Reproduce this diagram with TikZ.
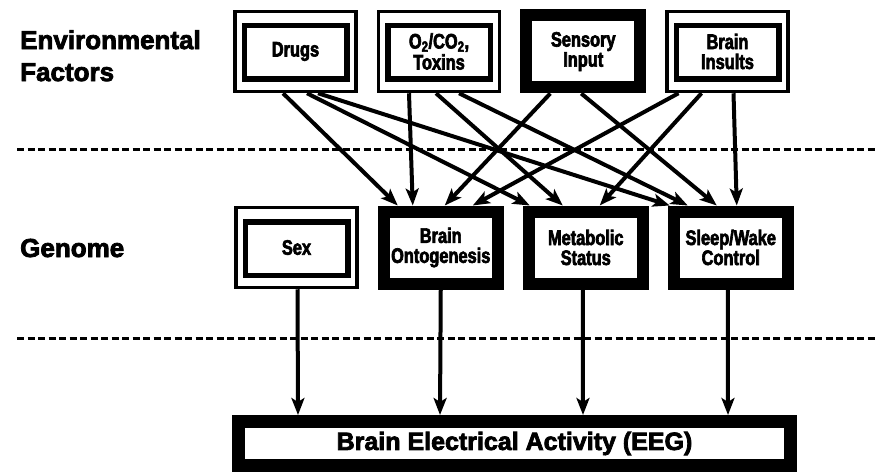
\documentclass[tikz,border=0pt]{standalone}
\usepackage{fontspec}
\setmainfont{Liberation Sans}
\newfontfamily\heavyfont{Liberation Sans Bold}[FakeBold=3]
\newfontfamily\boxfont{Liberation Sans Bold}[FakeBold=3, FakeStretch=0.78]
\usetikzlibrary{arrows.meta}
\usetikzlibrary{positioning}

\begin{document}
\begin{tikzpicture}[
    x=1pt, y=1pt,
    % box styles
    double box/.style={
        draw=black,
        fill=white,
        line width=3.5pt,
        minimum width=121pt,
        minimum height=80pt,
        inner sep=0pt,
        align=center,
        font=\boxfont\fontsize{21}{20}\selectfont
    },
    heavy box/.style={
        draw=black,
        fill=white,
        line width=12pt,
        minimum width=114pt,
        minimum height=72pt,
        inner sep=0pt,
        align=center,
        font=\boxfont\fontsize{21}{20}\selectfont
    },
    inner frame/.style={draw=black, line width=5.5pt},
    % edge styles
    flow/.style={-{Stealth[length=17pt, width=13pt, inset=4pt]}, line width=4pt},
    separator/.style={line width=3pt, dash pattern=on 7pt off 3.5pt},
    % label styles
    row label/.style={
        align=left,
        inner sep=0pt,
        font=\heavyfont\fontsize{26}{32}\selectfont
    }
]
\useasboundingbox (0,0) rectangle (883,475);

% -------------------------------
% Environmental factors (top row)
\node[double box] (drugs) at (295.5, 423.5) {Drugs};
\node[double box, right=19pt of drugs] (gas) {O\textsubscript{2}/CO\textsubscript{2},\\[1pt]Toxins};
\node[heavy box, right=19pt of gas] (sensory) {Sensory\\Input};
\node[double box, right=19pt of sensory] (insults) {Brain\\Insults};

% -------------------------------
% Genome (middle row)
\node[double box] (sex) at (296.5, 227.5) {Sex};
\node[heavy box, right=19pt of sex] (onto) {Brain\\Ontogenesis};
\node[heavy box, right=19pt of onto] (metab) {Metabolic\\Status};
\node[heavy box, right=19pt of metab] (sleep) {Sleep/Wake\\Control};

% -------------------------------
% EEG
\node[heavy box, line width=13pt, minimum width=552pt, minimum height=44pt,
      font=\heavyfont\fontsize{25}{28}\selectfont] (eeg) at (514.5, 31.5)
      {Brain Electrical Activity (EEG)};

% inner frames of the double boxes
\foreach \n in {drugs, gas, insults, sex}
    \draw[inner frame] ([shift={(11pt,-16pt)}]\n.north west)
        rectangle ([shift={(-11pt,14pt)}]\n.south east);

% -------------------------------
% Row labels
\node[row label, anchor=north west] (env-label) at (20, 445) {Environmental\\Factors};
\node[row label, anchor=base west] (genome-label) at (20, 218) {Genome};

% Separators
\draw[separator] (17, 326) -- (877, 326);
\draw[separator] (17, 137) -- (877, 137);

% -------------------------------
% Environment -> genome
\foreach \from/\fx/\to/\tx in {
    drugs/-12.5/onto/-43, drugs/11.5/metab/-56, drugs/22.5/sleep/-61,
    gas/-30/onto/-28, gas/-3/metab/-23, gas/20/sleep/-43,
    sensory/-33/onto/4, sensory/-2/sleep/-14,
    insults/-49/onto/32, insults/-26/metab/14, insults/6/sleep/6}
{
    \draw[flow] ([xshift=\fx pt]\from.south) -- ([xshift=\tx pt]\to.north);
}

% Genome -> EEG
\foreach \from/\fx/\tx in {sex/1/-216.5, onto/0/-74.5, metab/-3/68.5, sleep/-3/213.5}
    \draw[flow] ([xshift=\fx pt]\from.south) -- ([xshift=\tx pt]eeg.north);

\end{tikzpicture}
\end{document}
